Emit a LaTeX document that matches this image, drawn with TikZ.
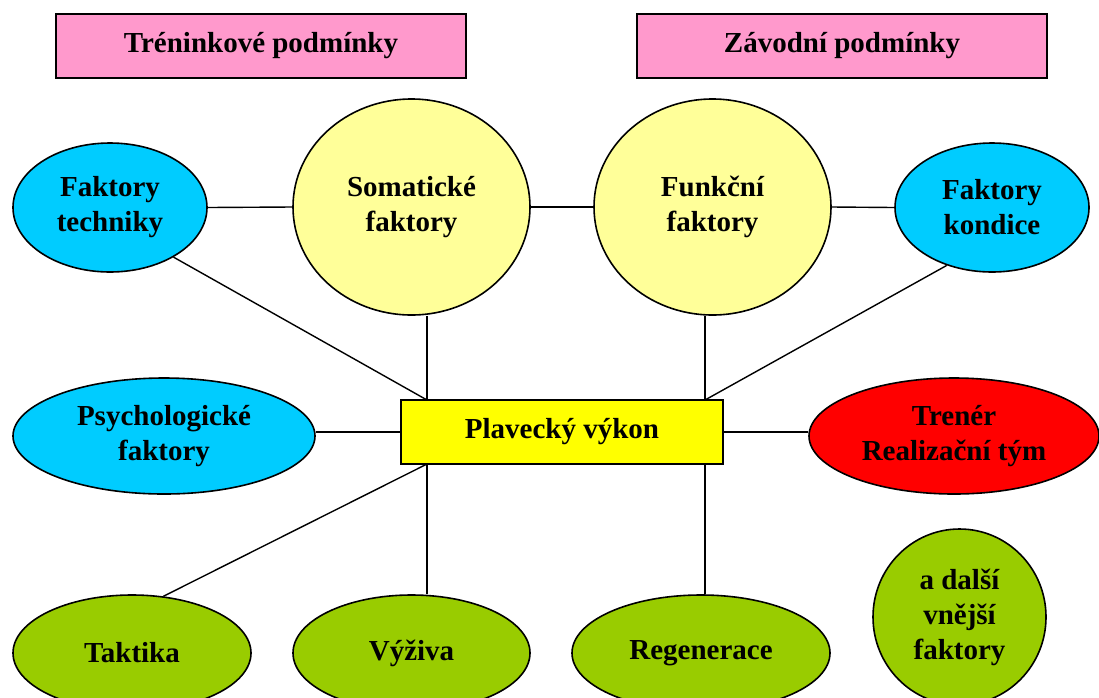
\documentclass[tikz,border=0pt]{standalone}
\usepackage{fontspec}
\setmainfont{Liberation Serif}
\usetikzlibrary{shapes.geometric}
\definecolor{pinkbox}{HTML}{FF99CC}
\definecolor{cyanell}{HTML}{00CCFF}
\definecolor{lightyel}{HTML}{FFFF99}
\definecolor{yelbox}{HTML}{FFFF00}
\definecolor{redell}{HTML}{FF0000}
\definecolor{greenell}{HTML}{99CC00}
\tikzset{
  lbl/.style={font=\bfseries\fontsize{29}{35}\selectfont, align=center, text=black},
  ovalnode/.style={lbl, ellipse, draw=black, line width=1.6pt, inner sep=0pt},
  boxnode/.style={lbl, rectangle, draw=black, line width=1.6pt, inner sep=0pt},
  conn/.style={draw=black, line width=1.4pt},
}
\begin{document}
\begin{tikzpicture}[x=1pt,y=-1pt]
\clip (0,0) rectangle (1099,697);
\fill[white] (0,0) rectangle (1099,697);

% header boxes
\node[boxnode, fill=pinkbox, minimum width=410pt, minimum height=64pt] (trc) at (261,46) {Tréninkové podmínky};
\node[boxnode, fill=pinkbox, minimum width=410pt, minimum height=64pt] (zav) at (842,46) {Závodní podmínky};

% top row
\node[ovalnode, fill=cyanell, minimum width=194pt, minimum height=129pt] (tech) at (110,207.5) {Faktory\\techniky};
\node[ovalnode, fill=lightyel, minimum width=237pt, minimum height=216pt] (soma) at (411.5,207) {Somatické\\faktory};
\node[ovalnode, fill=lightyel, minimum width=237pt, minimum height=216pt] (funk) at (712.5,207) {Funkční\\faktory};
\node[ovalnode, fill=cyanell, minimum width=194pt, minimum height=129pt] (kond) at (992,207.5) {Faktory\\kondice};

% middle row
\node[ovalnode, fill=cyanell, minimum width=302pt, minimum height=116pt] (psych) at (164,436) {Psychologické\\faktory};
\node[boxnode, fill=yelbox, minimum width=322pt, minimum height=64pt] (plav) at (562,432) {Plavecký výkon};
\node[ovalnode, fill=redell, minimum width=290pt, minimum height=116pt] (tren) at (954,436) {Trenér\\Realizační tým};

% bottom row
\node[ovalnode, fill=greenell, minimum width=238pt, minimum height=116pt] (takt) at (132,653) {Taktika};
\node[ovalnode, fill=greenell, minimum width=237pt, minimum height=116pt] (vyz) at (411.5,653) {Výživa};
\node[ovalnode, fill=greenell, minimum width=258pt, minimum height=116pt] (rege) at (701,653) {Regenerace};
\node[ovalnode, fill=greenell, minimum width=173pt, minimum height=176pt] (dalsi) at (959.5,617) {a další\\vnější\\faktory};

% attachment points on the central box
\coordinate (pTL) at (427,400);
\coordinate (pTR) at (705,400);
\coordinate (pBL) at (427,464);
\coordinate (pBR) at (705,464);

% connectors
\draw[conn] (tech.east) -- (soma.west);
\draw[conn] (soma.east) -- (funk.west);
\draw[conn] (funk.east) -- (kond.west);
\draw[conn] (tech.-38) -- (pTL);
\draw[conn] (pTL |- soma.south) -- (pTL);
\draw[conn] (pTR |- funk.south) -- (pTR);
\draw[conn] (kond.-128) -- (pTR);
\draw[conn] (plav.west -| psych.east) -- (plav.west);
\draw[conn] (plav.east) -- (plav.east -| tren.west);
\draw[conn] (pBL) -- (takt.61);
\draw[conn] (pBL) -- (pBL |- vyz.north);
\draw[conn] (pBR) -- (pBR |- rege.north);
\end{tikzpicture}
\end{document}
